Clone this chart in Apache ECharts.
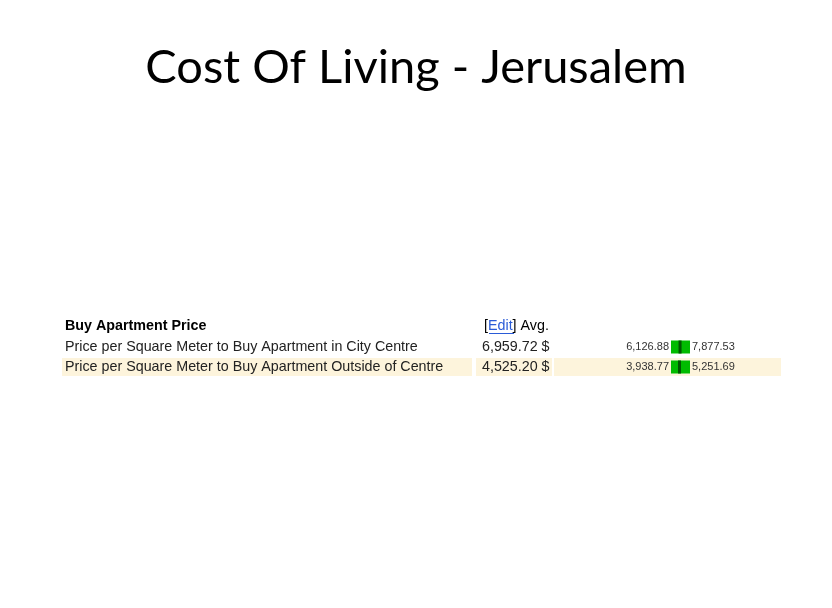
<!DOCTYPE html>
<html><head><meta charset="utf-8">
<script src="https://cdn.jsdelivr.net/npm/echarts@6/dist/echarts.min.js"></script>
<style>html,body{margin:0;background:#fff}#c{width:832px;height:608px}</style>
</head><body><div id="c"></div>
<script>
// table data
var rowNames = ["Price per Square Meter to Buy Apartment in City Centre", "Price per Square Meter to Buy Apartment Outside of Centre"];
var avgVals = [6959.72, 4525.20];
var minVals = [6126.88, 3938.77];
var maxVals = [7877.53, 5251.69];

function fmt(v){ return v.toLocaleString("en-US",{minimumFractionDigits:2,maximumFractionDigits:2}); }

var chart = echarts.init(document.getElementById("c"));
var F = "Liberation Sans, Arial, sans-serif";
var rowY = [347, 367];
var g = [
  {type:"text",left:"center",top:44,style:{text:"Cost Of Living - Jerusalem",font:"47px Lato, 'Open Sans', sans-serif",fill:"#000"}},
  {type:"text",x:65,y:326,style:{text:"Buy Apartment Price",font:"bold 14.3px "+F,fill:"#000",verticalAlign:"middle"}},
  {type:"text",x:484,y:326,style:{rich:{e:{fontFamily:F,fontSize:14.3,fill:"#2a5bd7"}},text:"[{e|Edit}] Avg.",font:"14.3px "+F,fill:"#000",verticalAlign:"middle"}},
  {type:"line",shape:{x1:489,y1:333.5,x2:514,y2:333.5},style:{stroke:"#2a5bd7",lineWidth:1}},
  {type:"rect",shape:{x:62,y:358,width:410,height:18},style:{fill:"#fdf4dc"},z:-1},
  {type:"rect",shape:{x:476,y:358,width:76,height:18},style:{fill:"#fdf4dc"},z:-1},
  {type:"rect",shape:{x:554,y:358,width:227,height:18},style:{fill:"#fdf4dc"},z:-1}
];
rowNames.forEach(function(n,i){
  g.push({type:"text",x:65,y:rowY[i],style:{text:n,font:"14.3px "+F,fill:"#222",verticalAlign:"middle"}});
  g.push({type:"text",x:482,y:rowY[i],style:{text:fmt(avgVals[i])+" $",font:"14.3px "+F,fill:"#222",verticalAlign:"middle"}});
  g.push({type:"text",x:669,y:rowY[i],style:{text:fmt(minVals[i]),font:"11px "+F,fill:"#333",align:"right",verticalAlign:"middle"}});
  g.push({type:"text",x:692,y:rowY[i],style:{text:fmt(maxVals[i]),font:"11px "+F,fill:"#333",verticalAlign:"middle"}});
});
var pos = avgVals.map(function(v,i){ return [(v-minVals[i])/(maxVals[i]-minVals[i]), i]; });

chart.setOption({
  animation:false,
  grid:{left:671,width:19,top:337,height:40},
  xAxis:{type:"value",min:0,max:1,show:false},
  yAxis:{type:"category",data:rowNames,inverse:true,show:false},
  graphic:g,
  series:[{
    type:"custom",
    data:pos,
    renderItem:function(params,api){
      var c0 = api.coord([0,api.value(1)]);
      var c1 = api.coord([1,api.value(1)]);
      var m = api.coord([api.value(0),api.value(1)]);
      return {type:"group",children:[
        {type:"rect",shape:{x:c0[0],y:c0[1]-6.5,width:c1[0]-c0[0],height:13},style:{fill:"#00bb00"}},
        {type:"rect",shape:{x:m[0]-1.5,y:c0[1]-6.5,width:3,height:13},style:{fill:"#005500"}}
      ]};
    }
  }]
});
</script></body></html>
